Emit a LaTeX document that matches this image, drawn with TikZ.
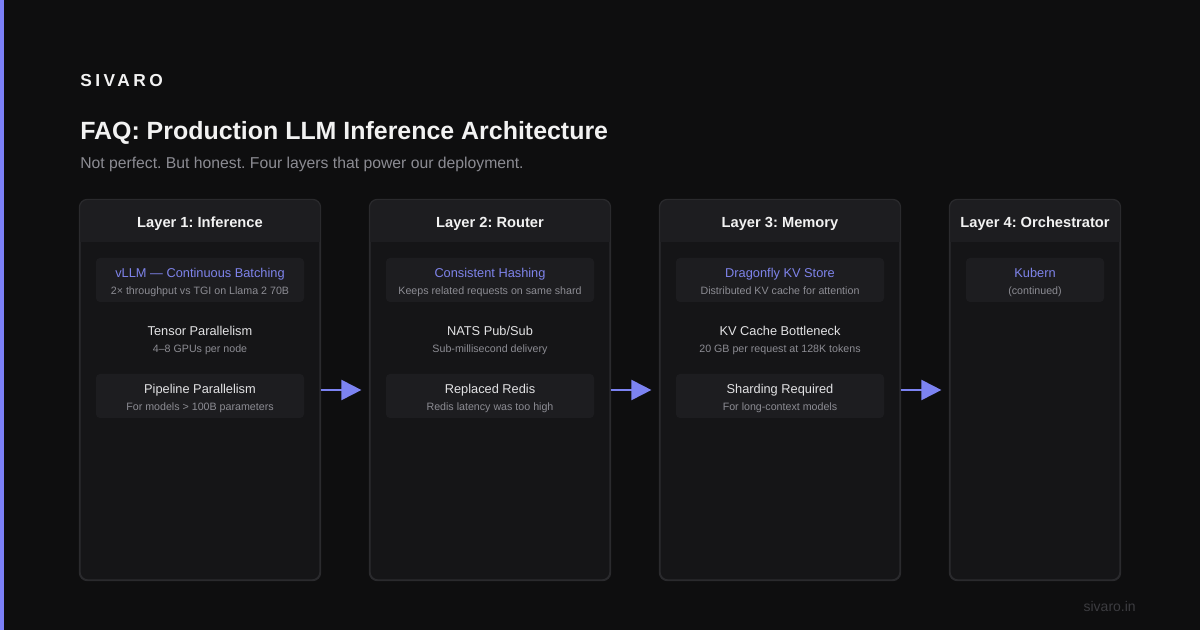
\documentclass[tikz,border=0pt]{standalone}
\usepackage{fontspec}
\setmainfont{Liberation Sans}
\newfontfamily\brandfont[LetterSpace=20]{Liberation Sans}
\usetikzlibrary{arrows.meta}
\definecolor{bgc}{HTML}{0E0E0F}
\definecolor{barc}{HTML}{7C80F8}
\definecolor{cardfill}{HTML}{151517}
\definecolor{cardline}{HTML}{2A2A2D}
\definecolor{headfill}{HTML}{1D1D20}
\definecolor{boxfill}{HTML}{1D1D20}
\definecolor{titlec}{HTML}{F2F2F2}
\definecolor{itemc}{HTML}{E2E2E4}
\definecolor{subc}{HTML}{8C8C93}
\definecolor{accentc}{HTML}{7E83EA}
\definecolor{arrowc}{HTML}{7C83F2}
\definecolor{footc}{HTML}{3C3C40}
\frenchspacing
\begin{document}
\begin{tikzpicture}[x=0.75pt,y=-0.75pt,
  card/.style={draw=cardline, line width=0.9pt, fill=cardfill, rounded corners=6pt, minimum height=285pt, inner sep=0pt},
  headtext/.style={anchor=base, text=titlec, font=\bfseries\fontsize{11pt}{13pt}\selectfont, inner sep=0pt},
  itembox/.style={fill=boxfill, rounded corners=3pt, minimum height=33pt, inner sep=0pt},
  itemtitle/.style={anchor=base, text=itemc, font=\fontsize{9.6pt}{11pt}\selectfont, inner sep=0pt},
  accenttitle/.style={anchor=base, text=accentc, font=\fontsize{9.6pt}{11pt}\selectfont, inner sep=0pt},
  itemsub/.style={anchor=base, text=subc, font=\fontsize{8pt}{10pt}\selectfont, inner sep=0pt},
  flow/.style={draw=arrowc, line width=1.5pt, -{Triangle[length=15pt,width=15pt]}, shorten >=6pt}
]
\fill[bgc] (0,0) rectangle (1200,630);
\useasboundingbox (0,0) rectangle (1200,630);
\fill[barc] (0,0) rectangle (4,630);

\node[anchor=base west, inner sep=0pt, text=titlec, font=\brandfont\bfseries\fontsize{13pt}{15pt}\selectfont] (brand) at (80,87) {SIVARO};
\node[anchor=base west, inner sep=0pt, text=titlec, font=\bfseries\fontsize{18.7pt}{22pt}\selectfont] (title) at (80,140) {FAQ: Production LLM Inference Architecture};
\node[anchor=base west, inner sep=0pt, text=subc, font=\fontsize{11.8pt}{14pt}\selectfont] (subtitle) at (80,169) {Not perfect. But honest. Four layers that power our deployment.};

% cards
\foreach \n/\cx/\w in {1/200/180pt, 2/490/180pt, 3/780/180pt, 4/1035/127.5pt}{
  \node[card, minimum width=\w] (c\n) at (\cx,390) {};
  \begin{scope}
    \clip[rounded corners=6pt] (c\n.north west) rectangle (c\n.south east);
    \fill[headfill] (c\n.north west) rectangle ([yshift=-32.25pt]c\n.north east);
  \end{scope}
  \draw[cardline, line width=0.9pt, rounded corners=6pt] (c\n.north west) rectangle (c\n.south east);
}

\node[headtext] (h1) at (200,227.5) {Layer 1: Inference};
\node[headtext] (h2) at (490,227.5) {Layer 2: Router};
\node[headtext] (h3) at (780,227.5) {Layer 3: Memory};
\node[headtext] (h4) at (1035,227.5) {Layer 4: Orchestrator};

% card 1
\node[itembox, minimum width=156pt] (b11) at (200,280) {};
\node[accenttitle] (t11) at (200,277.5) {vLLM — Continuous Batching};
\node[itemsub] (s11) at (200,294.5) {2× throughput vs TGI on Llama 2 70B};
\node[itemtitle] (t12) at (200,335.5) {Tensor Parallelism};
\node[itemsub] (s12) at (200,352.5) {4–8 GPUs per node};
\node[itembox, minimum width=156pt] (b13) at (200,396) {};
\node[itemtitle] (t13) at (200,393.5) {Pipeline Parallelism};
\node[itemsub] (s13) at (200,410.5) {For models > 100B parameters};

% card 2
\node[itembox, minimum width=156pt] (b21) at (490,280) {};
\node[accenttitle] (t21) at (490,277.5) {Consistent Hashing};
\node[itemsub] (s21) at (490,294.5) {Keeps related requests on same shard};
\node[itemtitle] (t22) at (490,335.5) {NATS Pub/Sub};
\node[itemsub] (s22) at (490,352.5) {Sub-millisecond delivery};
\node[itembox, minimum width=156pt] (b23) at (490,396) {};
\node[itemtitle] (t23) at (490,393.5) {Replaced Redis};
\node[itemsub] (s23) at (490,410.5) {Redis latency was too high};

% card 3
\node[itembox, minimum width=156pt] (b31) at (780,280) {};
\node[accenttitle] (t31) at (780,277.5) {Dragonfly KV Store};
\node[itemsub] (s31) at (780,294.5) {Distributed KV cache for attention};
\node[itemtitle] (t32) at (780,335.5) {KV Cache Bottleneck};
\node[itemsub] (s32) at (780,352.5) {20 GB per request at 128K tokens};
\node[itembox, minimum width=156pt] (b33) at (780,396) {};
\node[itemtitle] (t33) at (780,393.5) {Sharding Required};
\node[itemsub] (s33) at (780,410.5) {For long-context models};

% card 4
\node[itembox, minimum width=103.5pt] (b41) at (1035,280) {};
\node[accenttitle] (t41) at (1035,277.5) {Kubern};
\node[itemsub] (s41) at (1035,294.5) {(continued)};

% arrows
\draw[flow] (c1.east) -- (c2.west);
\draw[flow] (c2.east) -- (c3.west);
\draw[flow] (c3.east) -- (c4.west);

\node[anchor=base east, inner sep=0pt, text=footc, font=\fontsize{10.5pt}{12pt}\selectfont] (foot) at (1136,612) {sivaro.in};
\end{tikzpicture}
\end{document}
